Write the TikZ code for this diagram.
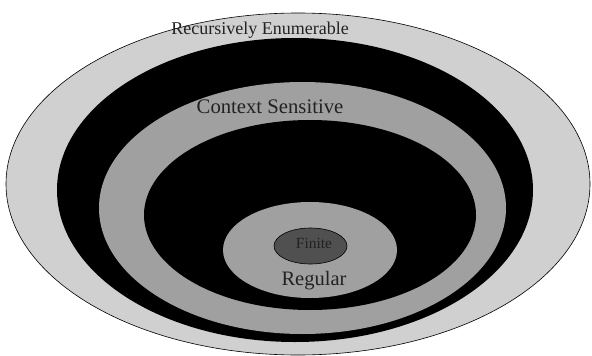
\documentclass[tikz,border=0pt]{standalone}
\usepackage{fontspec}
\setmainfont{Liberation Serif}
\usetikzlibrary{shapes.geometric}
\definecolor{lightg}{HTML}{D0D0D0}
\definecolor{midg}{HTML}{A0A0A0}
\definecolor{darkg}{HTML}{505050}
\definecolor{txt}{HTML}{222222}
\begin{document}
\begin{tikzpicture}[x=1pt,y=-1pt,
  ring/.style={ellipse, inner sep=0pt, outer sep=0pt},
  lbl/.style={text=txt, inner sep=0pt, font=\fontsize{18}{20}\selectfont}]
\useasboundingbox (0,0) rectangle (592,356);
\node[ring, fill=lightg, draw=black, line width=0.6pt, minimum width=584pt, minimum height=342pt] (re) at (298,184) {};
\node[ring, fill=black, minimum width=476pt, minimum height=304pt] (b1) at (295,190) {};
\node[ring, fill=midg, minimum width=407pt, minimum height=252pt] (cs) at (302.5,208) {};
\node[ring, fill=black, minimum width=332pt, minimum height=190pt] (b2) at (310,215) {};
\node[ring, fill=midg, minimum width=174pt, minimum height=96pt] (reg) at (310,250) {};
\node[ring, fill=darkg, draw=black, line width=0.6pt, minimum width=73pt, minimum height=36pt] (fin) at (310.5,246) {};
\node[lbl] (relbl) at (260,30) {Recursively Enumerable};
\node[lbl, font=\fontsize{20.7}{22}\selectfont] (cslbl) at (270,107) {Context Sensitive};
\node[lbl, font=\fontsize{20.5}{22}\selectfont] (reglbl) at (314,281) {Regular};
\node[lbl, font=\fontsize{15.5}{17}\selectfont] (finlbl) at (314,243) {Finite};
\end{tikzpicture}
\end{document}
